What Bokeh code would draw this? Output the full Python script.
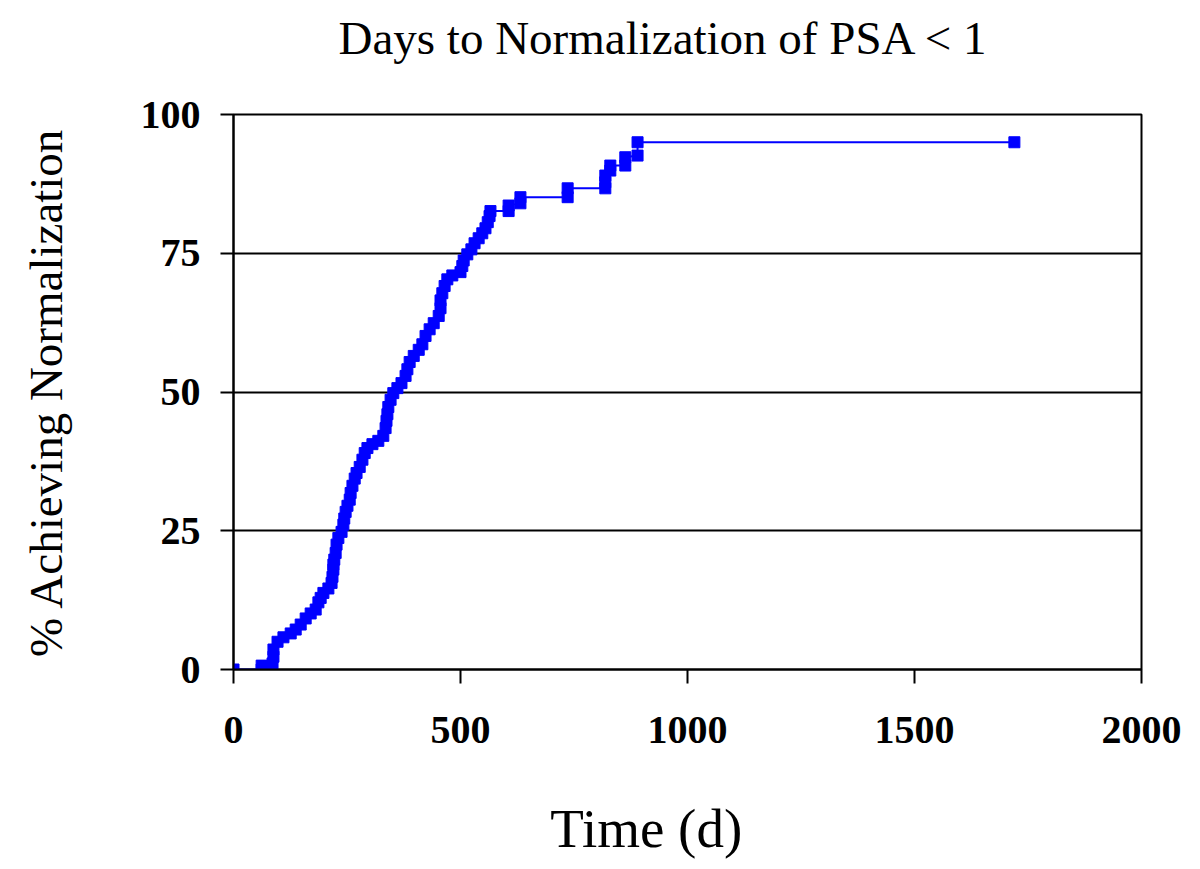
from bokeh.plotting import figure
from bokeh.embed import file_html
from bokeh.resources import INLINE
from bokeh.models import FixedTicker, Range1d, Title

# Data (days, % achieving normalization)
days = [0, 62, 62, 86, 88, 88, 97, 110, 126, 137, 148, 159, 170, 181, 187, 192, 198, 209,
        216, 218, 220, 220, 222, 225, 227, 231, 238, 242, 244, 247, 251, 256, 258, 262, 267,
        271, 278, 284, 289, 295, 306, 319, 330, 335, 337, 339, 341, 346, 352, 361, 370, 379,
        383, 388, 397, 408, 416, 423, 432, 441, 452, 456, 456, 460, 465, 471, 482, 500, 504,
        507, 515, 524, 531, 540, 548, 555, 560, 564, 566, 606, 606, 632, 632, 736, 736, 819,
        819, 819, 830, 830, 863, 863, 890, 890, 1720]
pct = [0, 0, 0.7, 1.1, 2.3, 3.6, 5.0, 5.8, 6.5, 7.2, 8.1, 9.2, 10.1, 10.8, 12.1, 12.9, 13.8,
       14.6, 15.6, 16.7, 18.0, 18.9, 19.8, 21.0, 22.5, 23.7, 24.8, 26.1, 27.2, 28.4, 29.5, 30.6,
       31.8, 33.1, 34.4, 35.4, 36.5, 37.8, 39.0, 39.9, 40.6, 41.2, 42.1, 43.5, 44.8, 46.0, 47.3,
       48.6, 49.8, 50.7, 51.6, 52.9, 54.1, 55.4, 56.5, 57.6, 58.6, 60.1, 61.3, 62.4, 63.7, 65.1,
       66.5, 67.8, 69.1, 70.3, 71.0, 71.6, 72.7, 73.7, 74.8, 75.7, 76.8, 77.7, 78.6, 79.5, 80.6,
       81.7, 82.6, 82.6, 83.6, 84.0, 85.1, 85.1, 86.7, 86.7, 87.8, 89.0, 89.9, 90.8, 90.8, 92.3,
       92.6, 95.0, 95.0]

x_ticks = [0, 500, 1000, 1500, 2000]
y_ticks = [0, 25, 50, 75, 100]

title_text = "Days to Normalization of PSA < 1"
x_label_text = "Time (d)"
y_label_text = "% Achieving Normalization"

SERIF = "Liberation Serif"
NBSP = "\u00a0"

p = figure(width=1192, height=861, output_backend="svg", toolbar_location=None,
           x_range=Range1d(0, 2000), y_range=Range1d(0, 100),
           min_border_left=233, min_border_right=51, min_border_top=114, min_border_bottom=191)

# spacer (nearest the frame) then the real title above it
p.add_layout(Title(text=" ", text_font_size="1px", standoff=46), "above")
p.add_layout(Title(text=title_text, text_font=SERIF, text_font_size="47px",
                   text_font_style="normal", text_color="black", align="left",
                   offset=105, standoff=4), "above")

p.outline_line_color = "black"
p.outline_line_width = 2
p.background_fill_color = "white"
p.border_fill_color = "white"

p.xgrid.visible = False
p.ygrid.grid_line_color = "black"
p.ygrid.grid_line_width = 2
p.ygrid.grid_line_alpha = 1.0

for ax in (p.xaxis[0], p.yaxis[0]):
    ax.axis_line_color = "black"
    ax.axis_line_width = 2
    ax.major_tick_line_color = "black"
    ax.major_tick_line_width = 2
    ax.major_tick_in = 0
    ax.minor_tick_line_color = None
    ax.major_label_text_font = SERIF
    ax.major_label_text_font_style = "bold"
    ax.major_label_text_color = "black"
    ax.major_label_text_font_size = "40px"
    ax.axis_label_text_font = SERIF
    ax.axis_label_text_font_style = "normal"
    ax.axis_label_text_color = "black"

p.xaxis[0].ticker = FixedTicker(ticks=x_ticks)
p.yaxis[0].ticker = FixedTicker(ticks=y_ticks)
p.ygrid[0].ticker = FixedTicker(ticks=y_ticks)
p.xaxis[0].major_tick_out = 14
p.yaxis[0].major_tick_out = 13
p.xaxis[0].major_label_standoff = 33
p.yaxis[0].major_label_standoff = 20
p.yaxis[0].axis_label = y_label_text
p.yaxis[0].axis_label_text_font_size = "47px"
p.yaxis[0].axis_label_standoff = 66
# trailing no-break spaces shift the centred label left, as in the reference
p.xaxis[0].axis_label = x_label_text + NBSP * 6
p.xaxis[0].axis_label_text_font_size = "55px"
p.xaxis[0].axis_label_standoff = 52

p.line(days, pct, line_color="#0000FF", line_width=2)
p.scatter(days, pct, marker="square", size=11, fill_color="#0000FF", line_color="#0000FF")

open("out.html", "w").write(file_html(p, INLINE))
